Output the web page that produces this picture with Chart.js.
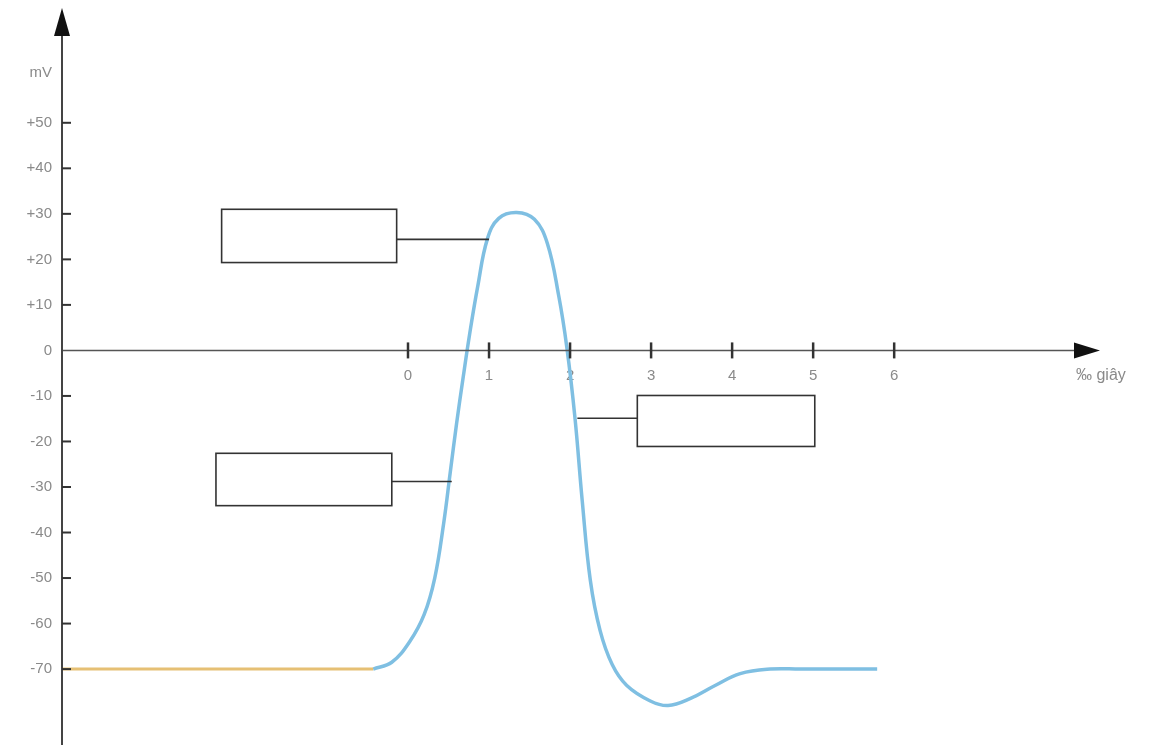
<!DOCTYPE html>
<html>
<head>
<meta charset="utf-8">
<script src="https://cdn.jsdelivr.net/npm/chart.js@4.4.1/dist/chart.umd.min.js"></script>
<style>
  html, body { margin: 0; padding: 0; background: #fff; }
  #wrap { width: 1165px; height: 750px; }
</style>
</head>
<body>
<div id="wrap"><canvas id="apChart"></canvas></div>
<script>
// resting level (orange) and the spike (blue), time in ‰ s, voltage in mV
const restTime = [-4.27, -0.43];
const restMv = [-70, -70];
const spikeTime = [-0.43, -0.2, 0.02, 0.2, 0.33, 0.44, 0.52, 0.6, 0.68, 0.76, 0.86, 0.98, 1.12, 1.34, 1.56, 1.72, 1.86, 1.96, 2.06, 2.15, 2.25, 2.37, 2.52, 2.70, 2.99, 3.21, 3.48, 3.79, 4.10, 4.47, 4.84, 5.79];
const spikeMv   = [-70, -68.5, -64, -58, -50, -38, -27, -16, -6, 3.5, 14, 24.5, 29, 30.3, 28.8, 23.5, 12, 0.7, -14.7, -33, -50.5, -61.5, -69, -73.6, -77, -78, -76.5, -73.6, -71, -70, -70, -70];
const xTickLabels = [0, 1, 2, 3, 4, 5, 6];
const yTickLabels = [-70, -60, -50, -40, -30, -20, -10, 0, 10, 20, 30, 40, 50];

// empty label boxes (data space) and the point they point at
const callouts = [
  { x0: -2.30, x1: -0.14, y0: 31.0, y1: 19.3, lineY: 24.4, toX: 1.0, side: 'right' },
  { x0: 2.83, x1: 5.02, y0: -9.9, y1: -21.1, lineY: -14.9, toX: 2.09, side: 'left' },
  { x0: -2.37, x1: -0.20, y0: -22.6, y1: -34.1, lineY: -28.8, toX: 0.54, side: 'right' }
];

const toPts = (xs, ys) => xs.map((x, i) => ({ x: x, y: ys[i] }));

const axisPlugin = {
  id: 'axisPlugin',
  afterDraw(chart) {
    const ctx = chart.ctx;
    const xs = chart.scales.x, ys = chart.scales.y;
    const ax = xs.getPixelForValue(xs.min);
    const ay = ys.getPixelForValue(0);
    const top = ys.getPixelForValue(ys.max) - 11;     // arrow pokes a bit above the plot
    const bottom = ys.getPixelForValue(ys.min) + 14;
    const right = xs.getPixelForValue(xs.max);
    ctx.save();

    // x axis
    ctx.strokeStyle = '#555';
    ctx.lineWidth = 1.5;
    ctx.beginPath(); ctx.moveTo(ax, ay); ctx.lineTo(right - 20, ay); ctx.stroke();
    ctx.fillStyle = '#111';
    ctx.beginPath(); ctx.moveTo(right, ay); ctx.lineTo(right - 26, ay - 8); ctx.lineTo(right - 26, ay + 8); ctx.closePath(); ctx.fill();

    // y axis
    ctx.strokeStyle = '#444';
    ctx.lineWidth = 2;
    ctx.beginPath(); ctx.moveTo(ax, bottom); ctx.lineTo(ax, top + 20); ctx.stroke();
    ctx.beginPath(); ctx.moveTo(ax, top); ctx.lineTo(ax - 8, top + 28); ctx.lineTo(ax + 8, top + 28); ctx.closePath(); ctx.fill();

    // tick marks
    ctx.strokeStyle = '#333';
    ctx.lineWidth = 2;
    yTickLabels.forEach(v => {
      if (v === 0) return;
      const py = ys.getPixelForValue(v);
      ctx.beginPath(); ctx.moveTo(ax, py); ctx.lineTo(ax + 9, py); ctx.stroke();
    });
    ctx.lineWidth = 2.5;
    xTickLabels.forEach(v => {
      const px = xs.getPixelForValue(v);
      ctx.beginPath(); ctx.moveTo(px, ay - 8); ctx.lineTo(px, ay + 8); ctx.stroke();
    });

    // callout boxes
    ctx.strokeStyle = '#333';
    ctx.lineWidth = 1.6;
    callouts.forEach(c => {
      const l = xs.getPixelForValue(c.x0), r = xs.getPixelForValue(c.x1);
      const t = ys.getPixelForValue(c.y0), b = ys.getPixelForValue(c.y1);
      ctx.strokeRect(l, t, r - l, b - t);
      const ly = ys.getPixelForValue(c.lineY);
      const from = c.side === 'right' ? r : l;
      ctx.beginPath(); ctx.moveTo(from, ly); ctx.lineTo(xs.getPixelForValue(c.toX), ly); ctx.stroke();
    });

    // axis titles
    ctx.fillStyle = '#8a8a8a';
    ctx.font = '15px "Liberation Sans", Arial, sans-serif';
    ctx.textAlign = 'right';
    ctx.textBaseline = 'middle';
    ctx.fillText('mV', ax - 10, ys.getPixelForValue(61));
    ctx.textAlign = 'left';
    ctx.font = '16px "Liberation Sans", Arial, sans-serif';
    ctx.fillText('‰ giây', right - 24, ay + 25);
    ctx.restore();
  }
};

new Chart(document.getElementById('apChart'), {
  type: 'scatter',
  data: {
    datasets: [
      {
        data: toPts(restTime, restMv),
        showLine: true,
        borderColor: '#e6c074',
        borderWidth: 3,
        pointRadius: 0
      },
      {
        data: toPts(spikeTime, spikeMv),
        showLine: true,
        borderColor: '#7fbfe2',
        borderWidth: 3.5,
        pointRadius: 0,
        tension: 0.4
      }
    ]
  },
  options: {
    responsive: true,
    maintainAspectRatio: false,
    animation: false,
    layout: { padding: { top: 0, bottom: 0, right: 65, left: 0 } },
    plugins: { legend: { display: false }, tooltip: { enabled: false } },
    scales: {
      x: {
        type: 'linear',
        min: -4.27,
        max: 8.54,
        position: { y: 0 },
        grid: { display: false, drawTicks: false },
        border: { display: false },
        ticks: {
          stepSize: 1,
          padding: 16,
          color: '#8a8a8a',
          font: { size: 15, family: '"Liberation Sans", Arial, sans-serif' },
          callback: v => xTickLabels.includes(v) ? String(v) : ''
        }
      },
      y: {
        type: 'linear',
        min: -83.6,
        max: 72.8,
        grid: { display: false, drawTicks: false },
        border: { display: false },
        afterFit: s => { s.width = 62; },
        ticks: {
          stepSize: 10,
          includeBounds: false,
          padding: 10,
          color: '#8a8a8a',
          font: { size: 15, family: '"Liberation Sans", Arial, sans-serif' },
          callback: v => yTickLabels.includes(v) ? (v > 0 ? '+' + v : String(v)) : ''
        }
      }
    }
  },
  plugins: [axisPlugin]
});
</script>
</body>
</html>
